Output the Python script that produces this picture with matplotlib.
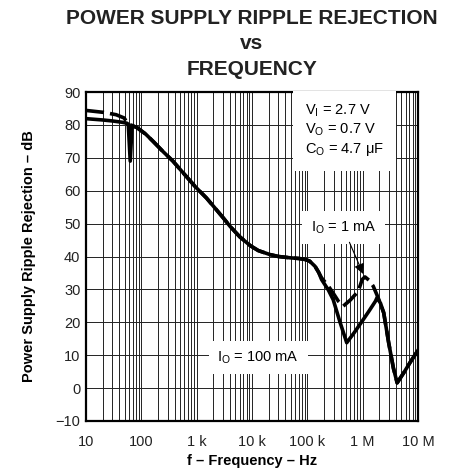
import matplotlib
matplotlib.use('Agg')
import matplotlib.pyplot as plt
import numpy as np
from matplotlib.ticker import LogLocator, NullFormatter

plt.rcParams['font.family'] = ['Liberation Sans', 'DejaVu Sans']
plt.rcParams['mathtext.fontset'] = 'custom'
plt.rcParams['mathtext.rm'] = 'Liberation Sans'
plt.rcParams['mathtext.it'] = 'Liberation Sans:italic'
plt.rcParams['mathtext.bf'] = 'Liberation Sans:bold'

# IO = 100 mA (solid)
f_100mA = [10, 20, 30, 45, 55, 58, 63, 68, 83, 120, 163, 250, 372, 600, 970, 1500, 2200, 3000,
           4000, 6000, 9300, 13e3, 21e3, 30e3, 49e3, 70e3, 91e3, 110e3, 138e3, 160e3,
           181e3, 240e3, 293e3, 392e3, 515e3, 700e3, 975e3, 1.3e6, 1.7e6,
           1.82e6, 2.1e6, 2.4e6, 2.95e6, 3.6e6, 4.2e6, 5.5e6, 7.2e6, 10e6]
psrr_100mA = [81.9, 81.5, 81.2, 80.8, 80.5, 80.2, 69.0, 79.8, 79.2, 77.2, 75.0, 71.8, 69.0, 65.0, 61.0, 57.8, 54.5, 51.8,
              49.2, 46.0, 43.3, 41.8, 40.6, 40.0, 39.6, 39.4, 39.1, 38.6, 37.0, 35.2,
              33.0, 29.8, 26.9, 19.9, 13.8, 16.8, 20.3, 23.4, 26.4,
              27.5, 25.8, 22.9, 13.8, 6.0, 1.6, 4.6, 7.8, 11.5]

# IO = 1 mA (dashed)
f_1mA = [10, 21, 35, 49, 57, 68, 83, 120, 163, 250, 372, 600, 970, 1500, 2200, 3000,
         4000, 6000, 9300, 13e3, 21e3, 30e3, 49e3, 70e3, 91e3, 110e3, 138e3, 160e3,
         181e3, 240e3, 290e3, 364e3, 445e3, 600e3, 830e3, 980e3,
         1.1e6, 1.3e6, 1.55e6, 1.9e6, 2.4e6, 2.95e6, 3.6e6, 4.2e6, 5.5e6, 7.2e6, 10e6]
psrr_1mA = [84.4, 83.8, 83.1, 82.1, 80.3, 79.8, 79.2, 77.2, 75.0, 71.8, 69.0, 65.0, 61.0, 57.8, 54.5, 51.8,
            49.2, 46.0, 43.3, 41.8, 40.6, 40.0, 39.6, 39.4, 39.1, 38.6, 37.0, 35.2,
            33.5, 31.0, 29.0, 26.4, 24.9, 26.8, 29.4, 33.0,
            33.8, 32.8, 31.0, 27.5, 22.9, 13.8, 6.0, 1.6, 4.6, 7.8, 11.5]

xticks = [10, 100, 1e3, 1e4, 1e5, 1e6, 1e7]
xtick_labels = ['10', '100', '1 k', '10 k', '100 k', '1 M', '10 M']
yticks = [-10, 0, 10, 20, 30, 40, 50, 60, 70, 80, 90]
ytick_labels = ['\u221210', '0', '10', '20', '30', '40', '50', '60', '70', '80', '90']

fig = plt.figure(figsize=(4.55, 4.70), dpi=100)
ax = fig.add_axes([86 / 455, 1 - 421 / 470, 332 / 455, 329 / 470])

ax.semilogx(f_100mA, psrr_100mA, color='black', lw=2.6, solid_joinstyle='round', zorder=4)
ax.semilogx(f_1mA, psrr_1mA, color='black', lw=2.6, dashes=(5, 1.7), zorder=4)

ax.set_xlim(10, 1e7)
ax.set_ylim(-10, 90)
ax.set_xticks(xticks)
ax.set_xticklabels(xtick_labels)
ax.xaxis.set_minor_locator(LogLocator(base=10, subs=np.arange(2, 10)))
ax.xaxis.set_minor_formatter(NullFormatter())
ax.set_yticks(yticks)
ax.set_yticklabels(ytick_labels)
ax.tick_params(which='both', length=0, labelsize=10.5, colors='#222222')
ax.tick_params(axis='x', pad=10)
ax.tick_params(axis='y', pad=4)

ax.grid(which='both', axis='x', color='#222222', lw=0.7)
ax.grid(which='major', axis='y', color='#222222', lw=0.7)
ax.set_axisbelow(True)
for sp in ax.spines.values():
    sp.set_linewidth(1.6)

ax.set_xlabel('f \u2013 Frequency \u2013 Hz', fontsize=10.5, fontweight='bold', labelpad=4)
ax.set_ylabel('Power Supply Ripple Rejection \u2013 dB', fontsize=10.5, fontweight='bold', labelpad=14)

# Title
fig.text(252 / 455, 1 - 9 / 470, 'POWER SUPPLY RIPPLE REJECTION\nvs\nFREQUENCY',
         ha='center', va='top', fontsize=15, fontweight='bold', linespacing=1.42, color='#222222')

# Condition box
ax.text(0.66, 0.968, 'V$_{\\rm I}$ = 2.7 V\nV$_{\\rm O}$ = 0.7 V\nC$_{\\rm O}$ = 4.7 \u03bcF',
        transform=ax.transAxes, ha='left', va='top', fontsize=10.5, linespacing=1.25,
        bbox=dict(boxstyle='square,pad=0.85', facecolor='white', edgecolor='none'), zorder=3)

ax.text(450e3, 48.8, 'I$_{\\rm O}$ = 1 mA', ha='center', va='center', fontsize=10.5,
        bbox=dict(boxstyle='square,pad=0.6', facecolor='white', edgecolor='none'), zorder=3)
ax.annotate('', xy=(1.07e6, 33.9), xytext=(550e3, 45.1),
            arrowprops=dict(arrowstyle='-|>,head_length=0.6,head_width=0.3', color='black', lw=0.8),
            zorder=5)

ax.text(12.9e3, 9.3, 'I$_{\\rm O}$ = 100 mA', ha='center', va='center', fontsize=10.5,
        bbox=dict(boxstyle='square,pad=0.6', facecolor='white', edgecolor='none'), zorder=3)

fig.savefig('out.png', dpi=100)
